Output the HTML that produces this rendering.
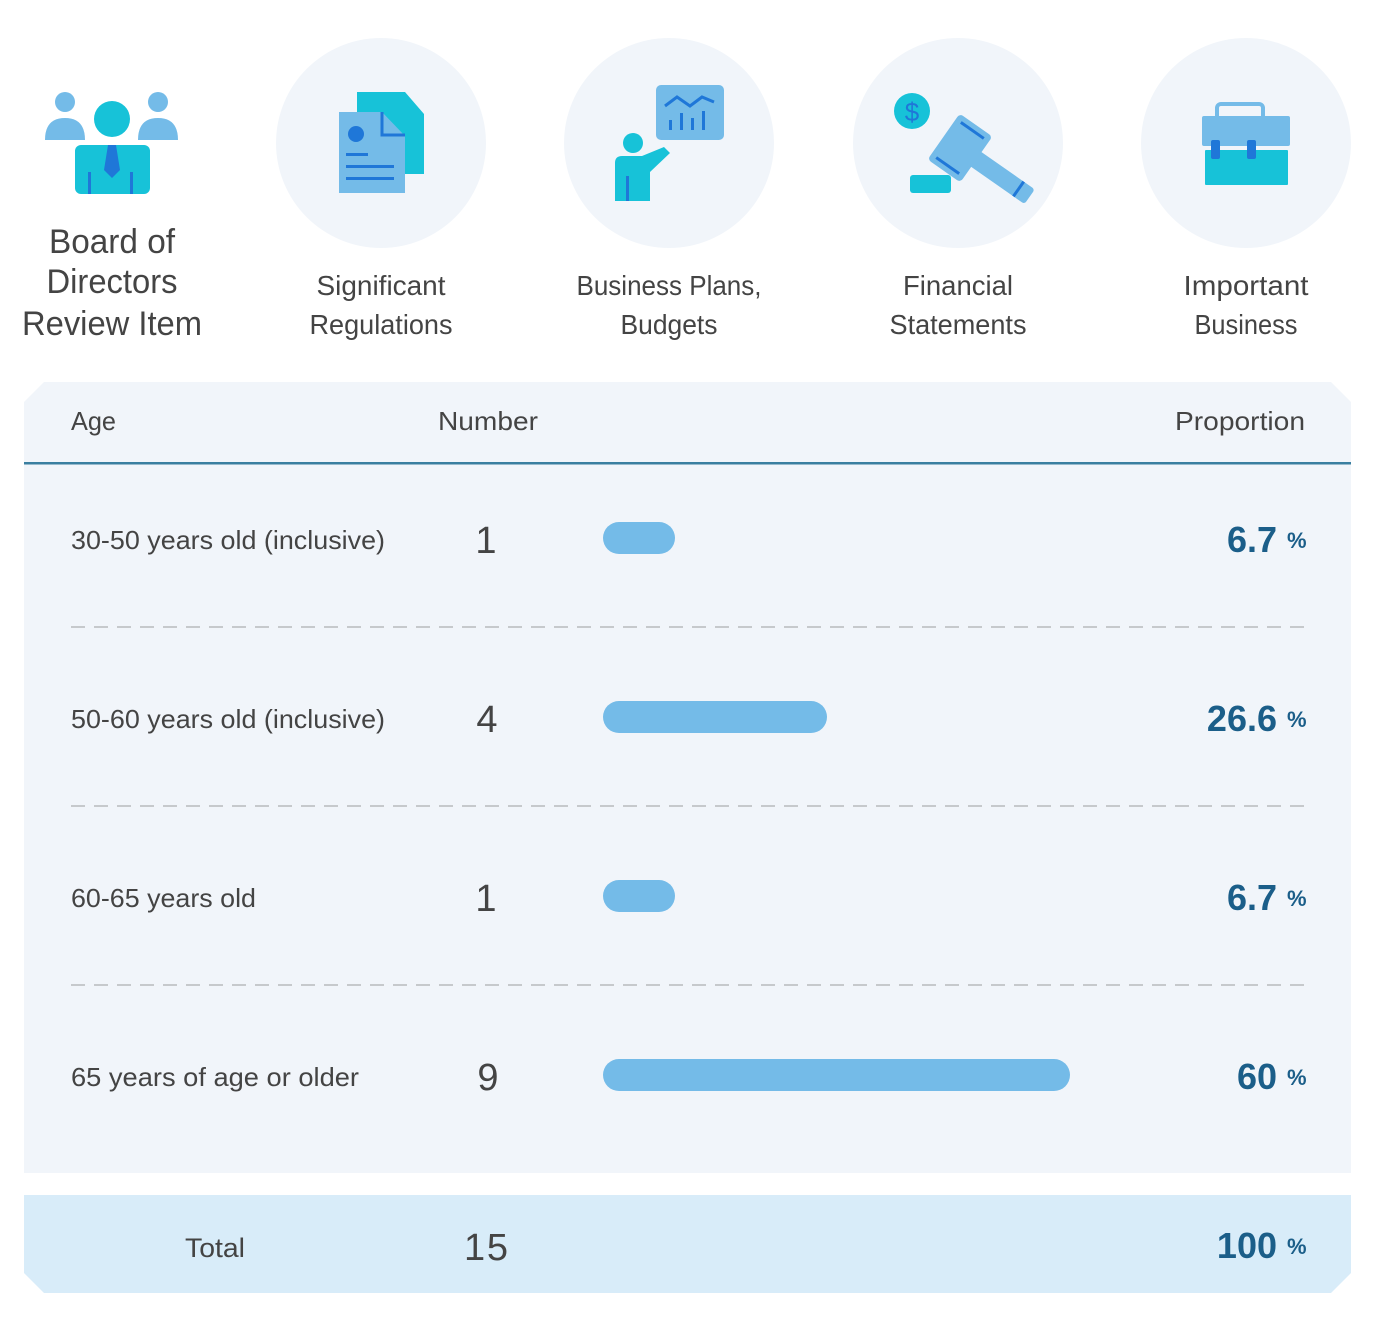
<!DOCTYPE html>
<html><head><meta charset="utf-8"><style>
html,body{margin:0;padding:0;background:#fff;}
svg{display:block;}
text{font-family:"Liberation Sans",sans-serif;}
</style></head><body>
<svg width="1380" height="1331" viewBox="0 0 1380 1331" xmlns="http://www.w3.org/2000/svg">
<rect width="1380" height="1331" fill="#fff"/>
<g fill="#f1f5fa">
<circle cx="381" cy="143" r="105"/><circle cx="669" cy="143" r="105"/>
<circle cx="958" cy="143" r="105"/><circle cx="1246" cy="143" r="105"/>
</g>
<circle cx="65" cy="102" r="10" fill="#74bbe8"/><circle cx="158" cy="102" r="10" fill="#74bbe8"/>
<path d="M45 140 Q45 118 65 118 Q85 118 85 140Z" fill="#74bbe8"/>
<path d="M138 140 Q138 118 158 118 Q178 118 178 140Z" fill="#74bbe8"/>
<circle cx="112" cy="119" r="18" fill="#17c2d8"/>
<rect x="75" y="145" width="75" height="49" rx="6" fill="#17c2d8"/>
<path d="M108 145 L116 145 L120 170 L112 178 L104 170Z" fill="#1f77d8"/>
<rect x="88" y="172" width="3" height="22" fill="#1f77d8"/><rect x="130" y="172" width="3" height="22" fill="#1f77d8"/>
<path d="M357 92 L405 92 L424 114 L424 174 L357 174Z" fill="#17c2d8"/>
<path d="M339 112 L382 112 L405 136 L405 193 L339 193Z" fill="#74bbe8"/>
<path d="M382 112 L382 135 L405 135" fill="none" stroke="#1f77d8" stroke-width="3"/>
<circle cx="356" cy="134" r="8" fill="#1f77d8"/>
<rect x="346" y="153" width="22" height="3" fill="#1f77d8"/>
<rect x="346" y="165" width="48" height="3" fill="#1f77d8"/>
<rect x="346" y="177" width="48" height="3" fill="#1f77d8"/>
<rect x="656" y="85" width="68" height="55" rx="5" fill="#74bbe8"/>
<path d="M665 106 L677 97 L690 106 L702 97 L714 102" fill="none" stroke="#1f77d8" stroke-width="3"/>
<g fill="#1f77d8"><rect x="669" y="120" width="3" height="10"/><rect x="680" y="113" width="3" height="17"/><rect x="691" y="118" width="3" height="12"/><rect x="702" y="111" width="3" height="19"/></g>
<circle cx="633" cy="143" r="10" fill="#17c2d8"/>
<path d="M615 163 Q615 156 622 156 L642 156 L664 147 L670 153 L650 172 L650 201 L615 201Z" fill="#17c2d8"/>
<rect x="626" y="176" width="3" height="25" fill="#1f77d8"/>
<circle cx="912" cy="111" r="18" fill="#17c2d8"/>
<text x="912" y="121" text-anchor="middle" font-size="26" fill="#1f77d8">$</text>
<g transform="translate(960 148) rotate(35)">
<rect x="-20" y="-28" width="40" height="56" rx="4" fill="#74bbe8"/>
<rect x="10" y="-9" width="75" height="18" rx="3" fill="#74bbe8"/>
<rect x="-14" y="-23" width="28" height="3" fill="#1f77d8"/><rect x="-14" y="20" width="28" height="3" fill="#1f77d8"/>
<rect x="70" y="-9" width="3" height="18" fill="#1f77d8"/>
</g>
<rect x="910" y="175" width="41" height="18" rx="3" fill="#17c2d8"/>
<rect x="1217" y="104" width="46" height="22" rx="4" fill="none" stroke="#74bbe8" stroke-width="4"/>
<rect x="1202" y="116" width="88" height="30" rx="2" fill="#74bbe8"/>
<rect x="1205" y="150" width="83" height="35" rx="1" fill="#17c2d8"/>
<rect x="1211" y="140" width="9" height="19" rx="2" fill="#1f77d8"/><rect x="1247" y="140" width="9" height="19" rx="2" fill="#1f77d8"/>
<g fill="#444" text-anchor="middle">
<text x="112" y="253" font-size="34" textLength="126" lengthAdjust="spacingAndGlyphs">Board of</text>
<text x="112" y="293" font-size="34" textLength="131" lengthAdjust="spacingAndGlyphs">Directors</text>
<text x="112" y="335" font-size="34" textLength="180" lengthAdjust="spacingAndGlyphs">Review Item</text>
<text x="381" y="295" font-size="28" textLength="129" lengthAdjust="spacingAndGlyphs">Significant</text>
<text x="381" y="334" font-size="28" textLength="143" lengthAdjust="spacingAndGlyphs">Regulations</text>
<text x="669" y="295" font-size="28" textLength="185" lengthAdjust="spacingAndGlyphs">Business Plans,</text>
<text x="669" y="334" font-size="28" textLength="97" lengthAdjust="spacingAndGlyphs">Budgets</text>
<text x="958" y="295" font-size="28" textLength="110" lengthAdjust="spacingAndGlyphs">Financial</text>
<text x="958" y="334" font-size="28" textLength="137" lengthAdjust="spacingAndGlyphs">Statements</text>
<text x="1246" y="295" font-size="28" textLength="125" lengthAdjust="spacingAndGlyphs">Important</text>
<text x="1246" y="334" font-size="28" textLength="103" lengthAdjust="spacingAndGlyphs">Business</text>
</g>
<path d="M44 382 L1331 382 L1351 402 L1351 1173 L24 1173 L24 402Z" fill="#f1f5fa"/>
<rect x="24" y="462" width="1327" height="2.5" fill="#3a7fa0"/>
<g fill="#444" font-size="26">
<text x="71" y="430" textLength="45" lengthAdjust="spacingAndGlyphs">Age</text>
<text x="438" y="430" textLength="100" lengthAdjust="spacingAndGlyphs">Number</text>
<text x="1175" y="430" textLength="130" lengthAdjust="spacingAndGlyphs">Proportion</text>
<text x="71" y="549" textLength="314" lengthAdjust="spacingAndGlyphs">30-50 years old (inclusive)</text>
<text x="71" y="728" textLength="314" lengthAdjust="spacingAndGlyphs">50-60 years old (inclusive)</text>
<text x="71" y="907" textLength="185" lengthAdjust="spacingAndGlyphs">60-65 years old</text>
<text x="71" y="1086" textLength="288" lengthAdjust="spacingAndGlyphs">65 years of age or older</text>
</g>
<g fill="#444" font-size="38" text-anchor="middle">
<text x="486" y="553">1</text><text x="487" y="732">4</text>
<text x="486" y="911">1</text><text x="488" y="1090">9</text>
</g>
<g stroke="#c6c9cc" stroke-width="2" stroke-dasharray="14 9">
<line x1="71" y1="627" x2="1305" y2="627"/><line x1="71" y1="806" x2="1305" y2="806"/><line x1="71" y1="985" x2="1305" y2="985"/>
</g>
<g fill="#74bbe8">
<rect x="603" y="522" width="72" height="32" rx="16"/>
<rect x="603" y="701" width="224" height="32" rx="16"/>
<rect x="603" y="880" width="72" height="32" rx="16"/>
<rect x="603" y="1059" width="467" height="32" rx="16"/>
</g>
<path d="M24 1195 L1351 1195 L1351 1273 L1331 1293 L44 1293 L24 1273Z" fill="#d8ecf9"/>
<g fill="#1b5e89" font-weight="bold">
<text x="1277" y="552" font-size="36" text-anchor="end">6.7</text>
<text x="1277" y="731" font-size="36" text-anchor="end">26.6</text>
<text x="1277" y="910" font-size="36" text-anchor="end">6.7</text>
<text x="1277" y="1089" font-size="36" text-anchor="end">60</text>
<text x="1277" y="1258" font-size="36" text-anchor="end">100</text>
<text x="1287" y="548" font-size="22">%</text>
<text x="1287" y="727" font-size="22">%</text>
<text x="1287" y="906" font-size="22">%</text>
<text x="1287" y="1085" font-size="22">%</text>
<text x="1287" y="1254" font-size="22">%</text>
</g>
<text x="185" y="1257" font-size="27" fill="#444" textLength="60" lengthAdjust="spacingAndGlyphs">Total</text>
<text x="486" y="1260" font-size="38" fill="#444" text-anchor="middle" textLength="44" lengthAdjust="spacing">15</text>
</svg>
</body></html>
